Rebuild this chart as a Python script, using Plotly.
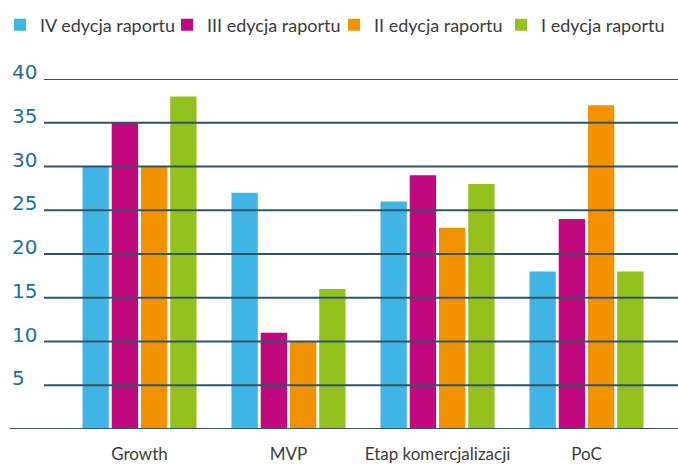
import plotly.graph_objects as go

categories = ["Growth", "MVP", "Etap komercjalizacji", "PoC"]
series_names = ["IV edycja raportu", "III edycja raportu", "II edycja raportu", "I edycja raportu"]
values_iv = [30, 27, 26, 18]
values_iii = [35, 11, 29, 24]
values_ii = [30, 10, 23, 37]
values_i = [38, 16, 28, 18]
y_ticks = [5, 10, 15, 20, 25, 30, 35, 40]
y_tick_labels = ["5", "10", "15", "20", "25", "30", "35", "40"]

colors = ["#41b6e6", "#c0087f", "#f39200", "#95c11f"]
all_values = [values_iv, values_iii, values_ii, values_i]

W, H = 678, 464
ml, mr, mt, mb = 44, 0, 79, 35
pw = W - ml - mr
ph = H - mt - mb

fig = go.Figure()
for name, vals, col in zip(series_names, all_values, colors):
    fig.add_trace(go.Bar(x=categories, y=vals, name=name, marker=dict(color=col, line=dict(width=0))))

grid_color = "#2f5668"
shapes = []
for t in y_ticks:
    shapes.append(dict(type="line", xref="paper", yref="y", x0=0, x1=1, y0=t, y1=t,
                       line=dict(color=grid_color, width=2), layer="above"))
shapes.append(dict(type="line", xref="paper", yref="y", x0=(10 - ml) / pw, x1=1, y0=0, y1=0,
                   line=dict(color=grid_color, width=2), layer="above"))

annotations = []
for t, lab in zip(y_ticks, y_tick_labels):
    annotations.append(dict(xref="paper", yref="y", x=(10 - ml) / pw, y=t, text=lab, showarrow=False,
                            xanchor="left", yanchor="bottom", yshift=-7,
                            font=dict(family="DejaVu Sans", size=20, color="#1f6f99")))

narrow = "Lato, sans-serif"

fig.update_layout(
    width=W, height=H,
    margin=dict(l=ml, r=mr, t=mt, b=mb, autoexpand=False),
    paper_bgcolor="white", plot_bgcolor="white",
    barmode="group", bargap=0.215, bargroupgap=0.1,
    shapes=shapes, annotations=annotations,
    showlegend=True,
    legend=dict(orientation="h", x=(0 - ml) / pw, xanchor="left", y=1 + (mt - 25) / ph, yanchor="middle",
                font=dict(family=narrow, size=18, color="#3c3c3c"),
                entrywidth=122, entrywidthmode="pixels", bgcolor="rgba(0,0,0,0)"),
    xaxis=dict(range=[-0.641, 3.614], showgrid=False, zeroline=False, showline=False, ticks="",
               tickfont=dict(family=narrow, size=17, color="#3c3c3c"), ticklabelstandoff=13),
    yaxis=dict(range=[0, 40], showgrid=False, zeroline=False, showline=False, showticklabels=False),
)

fig.write_html("out.html", config={"displayModeBar": False},
               post_script="document.body.style.margin='0';document.body.style.overflow='hidden';")
